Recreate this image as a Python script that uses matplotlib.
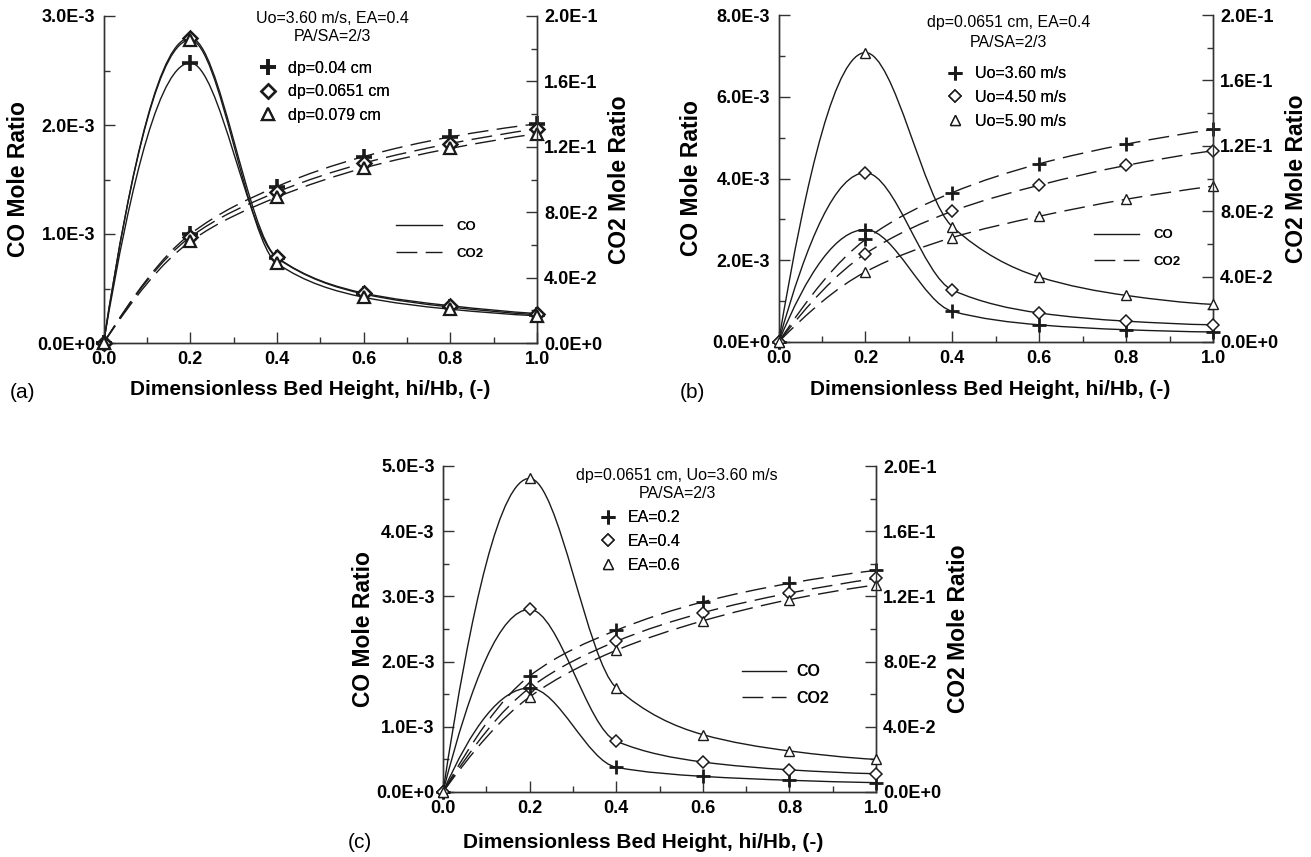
import numpy as np
import matplotlib
matplotlib.use("Agg")
import matplotlib.pyplot as plt
from matplotlib.path import Path
from matplotlib.patches import PathPatch
from matplotlib.lines import Line2D
from matplotlib.ticker import MultipleLocator

plt.rcParams['font.family'] = ['Liberation Sans', 'DejaVu Sans']

# bed height positions (hi/Hb)
x = [0.0, 0.2, 0.4, 0.6, 0.8, 1.0]

# (a) effect of particle size
a_labels = ['dp=0.04 cm', 'dp=0.0651 cm', 'dp=0.079 cm']
a_co = [
    [0.0, 2.57e-3, 0.78e-3, 0.45e-3, 0.33e-3, 0.26e-3],
    [0.0, 2.80e-3, 0.785e-3, 0.458e-3, 0.342e-3, 0.27e-3],
    [0.0, 2.78e-3, 0.73e-3, 0.42e-3, 0.31e-3, 0.25e-3],
]
a_co2 = [
    [0.0, 0.0666, 0.0957, 0.114, 0.126, 0.134],
    [0.0, 0.0648, 0.0923, 0.110, 0.122, 0.131],
    [0.0, 0.0621, 0.0892, 0.107, 0.119, 0.128],
]

# (b) effect of gas velocity
b_labels = ['Uo=3.60 m/s', 'Uo=4.50 m/s', 'Uo=5.90 m/s']
b_co = [
    [0.0, 2.75e-3, 0.75e-3, 0.42e-3, 0.30e-3, 0.245e-3],
    [0.0, 4.14e-3, 1.27e-3, 0.71e-3, 0.51e-3, 0.42e-3],
    [0.0, 7.08e-3, 2.82e-3, 1.59e-3, 1.14e-3, 0.92e-3],
]
b_co2 = [
    [0.0, 0.0627, 0.0914, 0.109, 0.121, 0.130],
    [0.0, 0.054, 0.080, 0.0959, 0.108, 0.117],
    [0.0, 0.0429, 0.0639, 0.0769, 0.0873, 0.0953],
]

# (c) effect of excess air
c_labels = ['EA=0.2', 'EA=0.4', 'EA=0.6']
c_co = [
    [0.0, 1.595e-3, 0.38e-3, 0.24e-3, 0.18e-3, 0.143e-3],
    [0.0, 2.80e-3, 0.78e-3, 0.46e-3, 0.34e-3, 0.28e-3],
    [0.0, 4.81e-3, 1.60e-3, 0.88e-3, 0.63e-3, 0.50e-3],
]
c_co2 = [
    [0.0, 0.0712, 0.0992, 0.1166, 0.128, 0.136],
    [0.0, 0.0638, 0.0924, 0.110, 0.122, 0.131],
    [0.0, 0.0583, 0.0869, 0.105, 0.118, 0.127],
]

co_ticks_a = [0, 1e-3, 2e-3, 3e-3]
co_ticks_b = [0, 2e-3, 4e-3, 6e-3, 8e-3]
co_ticks_c = [0, 1e-3, 2e-3, 3e-3, 4e-3, 5e-3]
co_ticklabels_a = ['0.0E+0', '1.0E-3', '2.0E-3', '3.0E-3']
co_ticklabels_b = ['0.0E+0', '2.0E-3', '4.0E-3', '6.0E-3', '8.0E-3']
co_ticklabels_c = ['0.0E+0', '1.0E-3', '2.0E-3', '3.0E-3', '4.0E-3', '5.0E-3']
co2_ticks = [0, 0.04, 0.08, 0.12, 0.16, 0.2]
co2_ticklabels = ['0.0E+0', '4.0E-2', '8.0E-2', '1.2E-1', '1.6E-1', '2.0E-1']

DARK = '#1a1a1a'
SPINE = '#333333'


def smooth_path(xs, ys):
    """monotone cubic (pchip style) through the points, as bezier path"""
    xs = np.asarray(xs, float)
    ys = np.asarray(ys, float)
    h = np.diff(xs)
    d = np.diff(ys) / h
    n = len(xs)
    m = np.zeros(n)
    for i in range(1, n - 1):
        if d[i - 1] * d[i] > 0:
            w1 = 2 * h[i] + h[i - 1]
            w2 = h[i] + 2 * h[i - 1]
            m[i] = (w1 + w2) / (w1 / d[i - 1] + w2 / d[i])

    def end(h0, h1, d0, d1):
        s = ((2 * h0 + h1) * d0 - h0 * d1) / (h0 + h1)
        if np.sign(s) != np.sign(d0):
            return 0.0
        if np.sign(d0) != np.sign(d1) and abs(s) > abs(3 * d0):
            return 3 * d0
        return s

    m[0] = end(h[0], h[1], d[0], d[1])
    m[-1] = end(h[-1], h[-2], d[-1], d[-2])
    verts = [(xs[0], ys[0])]
    codes = [Path.MOVETO]
    for i in range(n - 1):
        verts += [(xs[i] + h[i] / 3, ys[i] + m[i] * h[i] / 3),
                  (xs[i + 1] - h[i] / 3, ys[i + 1] - m[i + 1] * h[i] / 3),
                  (xs[i + 1], ys[i + 1])]
        codes += [Path.CURVE4] * 3
    return Path(verts, codes)


def marker_styles(bold):
    if bold:
        return [dict(marker='+', ms=11, mew=2.6, mfc=DARK, mec=DARK),
                dict(marker='D', ms=7, mew=1.8, mfc='white', mec=DARK),
                dict(marker='^', ms=8, mew=1.6, mfc='white', mec=DARK)]
    return [dict(marker='+', ms=10, mew=2.0, mfc=DARK, mec=DARK),
            dict(marker='D', ms=6.5, mew=1.1, mfc='white', mec=DARK),
            dict(marker='^', ms=7, mew=1.0, mfc='white', mec=DARK)]


DASH = (0, (15, 6))


def draw_panel(rect, co, co2, labels, co_ticks, co_ticklabels, co_max, co_minor,
               note1, note2, letter, letter_pos, bold, lt_fs,
               note_x, note_y, mleg, lleg, xlab_pos, ylab_x):
    ax = fig.add_axes(rect)
    ax2 = ax.twinx()
    ax.set_zorder(ax2.get_zorder() + 1)
    ax.patch.set_visible(False)
    styles = marker_styles(bold)

    for k in range(3):
        ax.add_patch(PathPatch(smooth_path(x, co[k]), fill=False, lw=1.0,
                               ec=DARK, zorder=2))
        ax.plot(x, co[k], ls='none', clip_on=False, zorder=3, **styles[k])
        ax2.add_patch(PathPatch(smooth_path(x, co2[k]), fill=False, lw=1.0,
                                ec=DARK, ls=DASH, zorder=2))
        ax2.plot(x, co2[k], ls='none', clip_on=False, zorder=3, **styles[k])

    ax.set_xlim(0, 1)
    ax.set_ylim(0, co_max)
    ax2.set_ylim(0, 0.2)
    ax.set_xticks([0, 0.2, 0.4, 0.6, 0.8, 1.0],
                  ['0.0', '0.2', '0.4', '0.6', '0.8', '1.0'],
                  fontsize=13, fontweight='bold')
    ax.xaxis.set_minor_locator(MultipleLocator(0.1))
    ax.set_yticks(co_ticks, co_ticklabels, fontsize=13, fontweight='bold')
    ax.yaxis.set_minor_locator(MultipleLocator(co_minor))
    ax2.set_yticks(co2_ticks, co2_ticklabels, fontsize=13, fontweight='bold')
    ax2.yaxis.set_minor_locator(MultipleLocator(0.02))
    for a in (ax, ax2):
        a.tick_params(which='both', direction='in', color=SPINE, width=1)
        a.tick_params(which='major', length=8)
        a.tick_params(which='minor', length=4.5)
        a.spines['top'].set_visible(False)
        for s in a.spines.values():
            s.set_color(SPINE)
            s.set_linewidth(1.0)
    ax.tick_params(axis='y', pad=6)
    ax.tick_params(axis='x', pad=6)
    ax2.tick_params(axis='y', pad=5)

    ax.set_xlabel('Dimensionless Bed Height, hi/Hb, (-)', fontsize=15,
                  fontweight='bold')
    ax.xaxis.set_label_coords(*xlab_pos)
    ax.set_ylabel('CO Mole Ratio', fontsize=16.5, fontweight='bold')
    ax.yaxis.set_label_coords(ylab_x[0], 0.5)
    ax2.set_ylabel('CO2 Mole Ratio', fontsize=16.5, fontweight='bold')
    ax2.yaxis.set_label_coords(ylab_x[1], 0.5)

    ax.text(note_x, note_y[0], note1, transform=ax.transAxes, ha='center',
            va='center', fontsize=11.5)
    ax.text(note_x, note_y[1], note2, transform=ax.transAxes, ha='center',
            va='center', fontsize=11.5)

    handles = [Line2D([], [], ls='none', **st) for st in styles]
    leg = ax.legend(handles, labels, loc='upper left', bbox_to_anchor=mleg,
                    frameon=False, fontsize=11.5, handlelength=1.0,
                    handletextpad=0.75, labelspacing=0.54, borderpad=0,
                    borderaxespad=0)
    ax.add_artist(leg)

    lhandles = [Line2D([], [], color=DARK, lw=1.0),
                Line2D([], [], color=DARK, lw=1.0, ls=DASH)]
    ax2.legend(lhandles, ['CO', 'CO2'], loc='upper left', bbox_to_anchor=lleg[0],
               frameon=False, prop=dict(size=lt_fs, weight='bold'),
               handlelength=lleg[1], handletextpad=lleg[2],
               labelspacing=lleg[3], borderpad=0, borderaxespad=0)

    fig.text(letter_pos[0], letter_pos[1], letter, fontsize=15, ha='left',
             va='center')
    return ax


W, H = 1311, 857
fig = plt.figure(figsize=(W / 100, H / 100), dpi=100)


def rect(l, r, t, b):
    return [l / W, 1 - b / H, (r - l) / W, (b - t) / H]


draw_panel(rect(103.6, 537, 16, 343), a_co, a_co2, a_labels,
           co_ticks_a, co_ticklabels_a, 3e-3, 0.5e-3,
           'Uo=3.60 m/s, EA=0.4', 'PA/SA=2/3', '(a)', (10 / W, 1 - 392 / H),
           True, 9.5, 0.529, (0.991, 0.936), (0.362, 0.863),
           ((0.675, 0.374), 3.5, 1.05, 1.13), (0.476, -0.113), (-0.170, 1.164))

draw_panel(rect(778.6, 1213, 15, 342), b_co, b_co2, b_labels,
           co_ticks_b, co_ticklabels_b, 8e-3, 1e-3,
           'dp=0.0651 cm, EA=0.4', 'PA/SA=2/3', '(b)', (680 / W, 1 - 392 / H),
           False, 9.5, 0.53, (0.976, 0.917), (0.387, 0.843),
           ((0.727, 0.345), 3.4, 1.1, 1.08), (0.488, -0.116), (-0.173, 1.165))

draw_panel(rect(443, 876, 466, 792), c_co, c_co2, c_labels,
           co_ticks_c, co_ticklabels_c, 5e-3, 0.5e-3,
           'dp=0.0651 cm, Uo=3.60 m/s', 'PA/SA=2/3', '(c)', (348 / W, 1 - 843 / H),
           False, 11.5, 0.541, (0.972, 0.917), (0.362, 0.864),
           ((0.690, 0.392), 2.8, 0.65, 0.74), (0.463, -0.126), (-0.157, 1.164))

fig.savefig('out.png', dpi=100)
